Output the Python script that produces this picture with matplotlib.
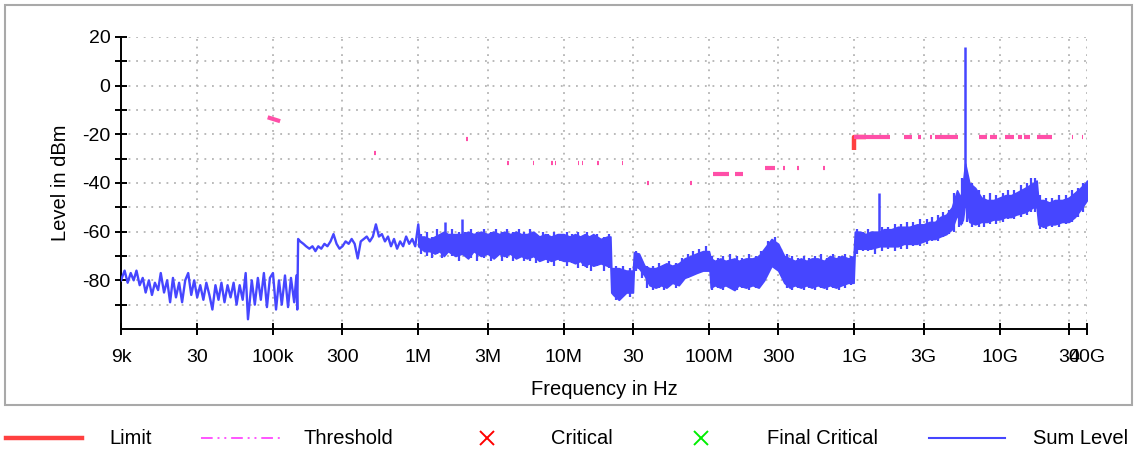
import matplotlib
matplotlib.use("Agg")
import matplotlib.pyplot as plt
from matplotlib.lines import Line2D
from matplotlib.patches import Rectangle

plt.rcParams['font.family'] = ['Liberation Sans', 'DejaVu Sans']

# ---------------- data ----------------
# Sum level, low-frequency part (single trace)
low_freq = [9.00e3, 9.53e3, 1.00e4, 1.05e4, 1.10e4, 1.15e4, 1.21e4, 1.27e4, 1.33e4, 1.40e4,
            1.47e4, 1.54e4, 1.62e4, 1.69e4, 1.78e4, 1.87e4, 1.96e4, 2.05e4, 2.15e4, 2.26e4,
            2.37e4, 2.49e4, 2.61e4, 2.74e4, 2.87e4, 3.01e4, 3.16e4, 3.32e4, 3.48e4, 3.65e4,
            3.83e4, 4.02e4, 4.22e4, 4.42e4, 4.64e4, 4.87e4, 5.11e4, 5.36e4, 5.62e4, 5.90e4,
            6.19e4, 6.49e4, 6.73e4, 7.15e4, 7.50e4, 7.87e4, 8.25e4, 8.66e4, 9.09e4, 9.53e4,
            1.00e5, 1.05e5, 1.10e5, 1.15e5, 1.21e5, 1.27e5, 1.33e5, 1.40e5, 1.45e5, 1.47e5,
            1.49e5, 1.54e5, 1.62e5, 1.69e5, 1.78e5, 1.87e5, 1.96e5, 2.05e5, 2.15e5, 2.26e5,
            2.37e5, 2.49e5, 2.61e5, 2.74e5, 2.87e5, 3.01e5, 3.16e5, 3.32e5, 3.48e5, 3.65e5,
            3.83e5, 4.02e5, 4.22e5, 4.42e5, 4.64e5, 4.87e5, 5.11e5, 5.36e5, 5.62e5, 5.90e5,
            6.19e5, 6.49e5, 6.81e5, 7.15e5, 7.50e5, 7.87e5, 8.25e5, 8.66e5, 9.09e5, 9.53e5,
            1.00e6, 1.02e6]
low_level = [-80, -76, -81, -77, -80, -76, -82, -79, -85, -80,
             -86, -81, -84, -77, -85, -80, -89, -79, -87, -81,
             -89, -80, -77, -86, -80, -87, -82, -88, -81, -86,
             -92, -82, -88, -81, -89, -82, -87, -81, -90, -82,
             -88, -77, -96, -80, -90, -79, -88, -77, -91, -79,
             -77, -92, -80, -90, -78, -91, -79, -89, -78, -92,
             -63, -64, -65, -66, -67, -66, -68, -66, -67, -65,
             -66, -64, -61, -65, -67, -66, -64, -65, -63, -65,
             -71, -64, -63, -62, -64, -62, -57, -62, -61, -64,
             -62, -66, -63, -67, -64, -66, -62, -65, -63, -66,
             -57, -63]

# Sum level, dense part (envelope of the sweep)
band_freq = [1.0e6, 1.1e6, 1.2e6, 1.3e6, 1.4e6, 1.5e6, 1.6e6, 1.8e6, 2.0e6, 2.2e6,
             2.4e6, 2.7e6, 3.0e6, 3.3e6, 3.6e6, 3.9e6, 4.3e6, 4.7e6, 5.1e6, 5.6e6,
             6.2e6, 6.8e6, 7.5e6, 8.2e6, 9.1e6,
             1.0e7, 1.1e7, 1.2e7, 1.3e7, 1.4e7, 1.5e7, 1.6e7, 1.8e7, 2.0e7, 2.1e7,
             2.13e7, 2.2e7, 2.4e7, 2.7e7, 3.0e7, 3.05e7, 3.3e7, 3.6e7, 3.9e7, 4.3e7,
             4.7e7, 5.1e7, 5.6e7, 6.2e7, 6.8e7, 7.5e7, 8.2e7, 9.1e7, 1.0e8, 1.01e8,
             1.03e8, 1.1e8, 1.2e8, 1.3e8, 1.5e8, 1.6e8, 1.8e8, 2.0e8, 2.2e8, 2.4e8,
             2.7e8, 3.0e8, 3.3e8, 3.6e8, 3.9e8, 4.3e8, 4.7e8, 5.1e8, 5.6e8, 6.2e8,
             6.8e8, 7.5e8, 8.2e8, 9.1e8, 9.9e8, 1.01e9,
             1.1e9, 1.2e9, 1.3e9, 1.5e9, 1.6e9, 1.8e9, 2.0e9, 2.2e9, 2.4e9, 2.7e9,
             3.0e9, 3.3e9, 3.6e9, 3.9e9, 4.3e9, 4.7e9, 5.1e9, 5.4e9, 5.6e9, 5.8e9,
             6.2e9, 6.8e9, 7.5e9, 8.2e9, 9.1e9, 1.0e10, 1.1e10, 1.2e10, 1.3e10, 1.5e10,
             1.6e10, 1.7e10, 1.8e10, 1.85e10, 2.0e10, 2.2e10, 2.4e10, 2.7e10, 3.0e10, 3.3e10,
             3.6e10, 3.9e10, 4.0e10]
band_hi = [-62, -62, -63, -62, -61, -60, -61, -61, -61, -60,
           -61, -60, -61, -60, -61, -60, -61, -60, -61, -61,
           -60, -62, -61, -62, -61,
           -61, -62, -61, -62, -61, -62, -61, -63, -62, -62,
           -75, -75, -75, -76, -76, -68.5, -69, -74, -75, -75,
           -74, -73, -74, -73, -71, -70, -69, -68, -68, -69,
           -71, -72, -71, -72, -71, -72, -71, -71, -70, -67,
           -63, -65, -70, -71, -72, -71, -72, -71, -71, -72,
           -70, -71, -70, -71, -70, -60,
           -60, -61, -60, -60, -59, -59, -58, -58, -58, -57,
           -57, -56, -56, -54, -53, -50, -43, -46, -40, -32,
           -40, -42, -46, -47, -47, -46, -45, -45, -44, -42,
           -41, -40, -39, -47, -47, -48, -47, -47, -46, -44,
           -42, -40, -39]
band_lo = [-66, -68, -68, -69, -68, -70, -68, -70, -69, -71,
           -68, -70, -69, -71, -69, -70, -69, -71, -70, -71,
           -70, -72, -71, -72, -71,
           -72, -72, -73, -72, -74, -73, -74, -73, -74, -74,
           -85, -86, -88, -85, -85, -74, -75, -78, -82, -83,
           -82, -83, -81, -82, -79, -78, -77, -76, -76, -76,
           -83, -82, -83, -82, -84, -82, -83, -82, -83, -80,
           -74, -76, -81, -83, -82, -83, -82, -83, -82, -83,
           -82, -83, -82, -81, -81, -67,
           -67, -67, -67, -66, -66, -66, -66, -65, -65, -65,
           -64, -63, -63, -62, -61, -59, -53, -57, -55, -48,
           -56, -57, -56, -56, -55, -55, -54, -54, -53, -52,
           -51, -50, -50, -57, -58, -57, -57, -56, -56, -54,
           -51, -48, -47]

# individual sweep excursions (min/max of single bins) within the dense part
jag_freq = [1.05e6, 1.15e6, 1.25e6, 1.35e6, 1.45e6, 1.7e6, 1.9e6, 2.1e6, 2.3e6, 2.55e6,
            2.85e6, 3.15e6, 3.45e6, 3.75e6, 4.1e6, 4.5e6, 4.9e6, 5.35e6, 5.9e6, 6.5e6,
            7.2e6, 7.8e6, 8.6e6, 9.5e6, 1.05e7, 1.15e7, 1.25e7, 1.35e7, 1.45e7, 1.55e7,
            1.7e7, 1.9e7, 2.05e7, 2.3e7, 2.55e7, 2.85e7, 3.15e7, 3.45e7, 3.75e7, 4.1e7,
            4.5e7, 4.9e7, 5.35e7, 5.9e7, 6.5e7, 7.2e7, 7.8e7, 8.6e7, 9.5e7, 1.05e8,
            1.15e8, 1.25e8, 1.4e8, 1.55e8, 1.7e8, 1.9e8, 2.1e8, 2.3e8, 2.55e8, 2.85e8,
            3.15e8, 3.45e8, 3.75e8, 4.1e8, 4.5e8, 4.9e8, 5.35e8, 5.9e8, 6.5e8, 7.2e8,
            7.8e8, 8.6e8, 9.5e8, 1.05e9, 1.15e9, 1.25e9, 1.4e9, 1.55e9, 1.7e9, 1.9e9,
            2.1e9, 2.3e9, 2.55e9, 2.85e9, 3.15e9, 3.45e9, 3.75e9, 4.1e9, 4.5e9, 4.9e9,
            5.3e9, 5.5e9, 6.0e9, 6.5e9, 7.2e9, 7.8e9, 8.6e9, 9.5e9, 1.05e10, 1.15e10,
            1.25e10, 1.4e10, 1.55e10, 1.65e10, 1.75e10, 1.9e10, 2.1e10, 2.3e10, 2.55e10,
            2.85e10, 3.15e10, 3.45e10, 3.75e10]
jag_hi = [-61, -60, -62, -59, -61, -59, -60, -60, -59, -60,
          -59, -60, -59, -60, -59, -60, -59, -60, -59, -61,
          -60, -61, -60, -61, -60, -61, -60, -62, -60, -62,
          -61, -62, -61, -74, -74, -75, -68, -72, -74, -74,
          -73, -74, -72, -73, -71, -69, -68, -67, -66, -70,
          -71, -70, -69, -70, -71, -69, -70, -68, -64, -62,
          -67, -69, -70, -71, -70, -71, -70, -69, -71, -69,
          -70, -69, -70, -59, -60, -59, -60, -58, -58, -57,
          -57, -56, -56, -55, -55, -54, -53, -52, -51, -44,
          -45, -38, -38, -40, -43, -45, -44, -45, -44, -43,
          -43, -41, -40, -38, -38, -45, -46, -46, -45,
          -45, -43, -42, -40]
jag_lo = [-69, -70, -71, -69, -71, -70, -72, -70, -71, -72,
          -71, -72, -70, -72, -71, -72, -70, -72, -72, -73,
          -71, -73, -74, -72, -74, -73, -75, -74, -75, -76,
          -74, -76, -75, -88, -86, -87, -76, -79, -83, -84,
          -83, -84, -82, -83, -80, -79, -78, -77, -76, -84,
          -83, -84, -83, -84, -83, -84, -83, -82, -76, -74,
          -78, -83, -84, -83, -84, -83, -84, -83, -84, -83,
          -84, -83, -82, -69, -68, -68, -69, -68, -67, -68,
          -67, -67, -66, -66, -65, -64, -64, -62, -61, -60,
          -58, -57, -56, -58, -58, -58, -57, -57, -56, -55,
          -55, -54, -53, -52, -52, -59, -59, -58, -58,
          -57, -56, -54, -52]

# narrow spurs on top of the sweep
spike_freq = [1.53e6, 2.0e6, 1.49e9, 5.8e9]
spike_base = [-62, -61, -61, -40]
spike_top = [-56, -55, -44, 16]

# threshold segments: start/stop frequency and level
thr_f0 = [9.2e4, 4.95e5, 2.13e6, 4.1e6, 6.2e6, 8.2e6, 8.7e6, 1.25e7, 1.33e7, 1.70e7,
          2.54e7, 3.75e7, 7.4e7, 1.07e8, 1.52e8, 2.45e8, 3.25e8, 4.05e8, 6.12e8,
          1.0e9, 2.21e9, 2.76e9, 3.33e9, 3.61e9, 7.25e9, 8.6e9, 1.09e10, 1.34e10,
          1.48e10, 1.82e10, 3.16e10, 3.71e10]
thr_f1 = [1.12e5, 5.15e5, 2.20e6, 4.2e6, 6.3e6, 8.4e6, 8.9e6, 1.28e7, 1.36e7, 1.74e7,
          2.58e7, 3.85e7, 7.6e7, 1.37e8, 1.72e8, 2.85e8, 3.33e8, 4.15e8, 6.28e8,
          1.77e9, 2.51e9, 2.89e9, 3.44e9, 5.2e9, 8.2e9, 9.64e9, 1.25e10, 1.42e10,
          1.63e10, 2.3e10, 3.21e10, 3.77e10]
thr_l0 = [-13.0, -27.7, -22.0, -31.8, -31.8, -31.8, -31.8, -31.8, -31.8, -31.8,
          -31.8, -40.0, -40.0, -36.4, -36.4, -34.0, -34.0, -34.0, -34.0,
          -21.3, -21.3, -21.3, -21.3, -21.3, -21.3, -21.3, -21.3, -21.3,
          -21.3, -21.3, -21.3, -21.3]
thr_l1 = [-14.6, -27.7, -22.0, -31.8, -31.8, -31.8, -31.8, -31.8, -31.8, -31.8,
          -31.8, -40.0, -40.0, -36.4, -36.4, -34.0, -34.0, -34.0, -34.0,
          -21.3, -21.3, -21.3, -21.3, -21.3, -21.3, -21.3, -21.3, -21.3,
          -21.3, -21.3, -21.3, -21.3]

# limit line
limit_freq = [1.0e9, 1.0e9, 1.2e9]
limit_level = [-26.5, -21.3, -21.3]

# axes ticks
x_ticks = [9e3, 3e4, 1e5, 3e5, 1e6, 3e6, 1e7, 3e7, 1e8, 3e8, 1e9, 3e9, 1e10, 3e10, 4e10]
x_labels = ["9k", "30", "100k", "300", "1M", "3M", "10M", "30", "100M", "300",
            "1G", "3G", "10G", "30", "40G"]
y_major = [-80, -60, -40, -20, 0, 20]
y_minor = [-90, -70, -50, -30, -10, 10]
y_grid = [-90, -80, -70, -60, -50, -40, -30, -20, -10, 0, 10, 20]

legend_names = ["Limit", "Threshold", "Critical", "Final Critical", "Sum Level"]

# ---------------- styles ----------------
BLUE = '#4646ff'
PINK = '#ff4fa8'
RED = '#ff4040'
MAG = '#ff55ff'
GRID = '#b4b4b4'

W, H = 1137, 454
fig = plt.figure(figsize=(W / 100, H / 100), dpi=100)
fig.patch.set_facecolor('white')

# outer frame
fig.add_artist(Rectangle((5 / W, 1 - 405 / H), (1132 - 5) / W, (405 - 5) / H,
                         transform=fig.transFigure, fill=False,
                         edgecolor='#a9a9a9', lw=1.5))

ax = fig.add_axes([121 / W, 1 - 329 / H, 966 / W, 292 / H])
ax.set_xscale('log')
ax.set_xlim(9e3, 4e10)
ax.set_ylim(-100, 20)

# grid
for yv in y_grid:
    ax.axhline(yv, color=GRID, lw=1.3, ls=(0, (1, 3.2)), zorder=0)
for xv in x_ticks[1:]:
    ax.axvline(xv, color=GRID, lw=1.3, ls=(0, (1, 3.2)), zorder=0)

# sum level
ax.plot(low_freq, low_level, color=BLUE, lw=1.7, zorder=3)
ax.fill_between(band_freq, band_lo, band_hi, color=BLUE, lw=1.2,
                edgecolor=BLUE, zorder=3)
ax.vlines(jag_freq, jag_lo, jag_hi, color=BLUE, lw=1.6, zorder=3)
ax.vlines(spike_freq, spike_base, spike_top, color=BLUE, lw=1.8, zorder=3)

# limit and threshold
ax.plot(limit_freq, limit_level, color=RED, lw=3.2, solid_capstyle='butt', zorder=4)
for f0, f1, l0, l1 in zip(thr_f0, thr_f1, thr_l0, thr_l1):
    ax.plot([f0, f1], [l0, l1], color=PINK, lw=3.0, solid_capstyle='butt', zorder=5)

# axes style
for s in ['top', 'right']:
    ax.spines[s].set_visible(False)
for s in ['left', 'bottom']:
    ax.spines[s].set_linewidth(1.4)
    ax.spines[s].set_color('black')

ax.set_xticks(x_ticks)
ax.set_xticklabels(x_labels)
ax.xaxis.set_minor_locator(matplotlib.ticker.NullLocator())
ax.set_yticks(y_major)
ax.set_yticklabels([str(v) for v in y_major])
ax.set_yticks(y_minor, minor=True)
ax.tick_params(axis='both', which='both', direction='inout', length=9, width=1.4,
               color='black', labelsize=14)
ax.tick_params(axis='x', pad=10)
ax.tick_params(axis='y', pad=3)

ax.set_xlabel('Frequency in Hz', fontsize=14.5)
ax.set_ylabel('Level in dBm', fontsize=14.5)
ax.xaxis.set_label_coords(0.5, -0.175)
ax.yaxis.set_label_coords(-0.053, 0.5)

# legend row
yl = 1 - 438 / H
fig.add_artist(Line2D([6 / W, 82 / W], [yl, yl], transform=fig.transFigure,
                      color=RED, lw=3.2))
fig.add_artist(Line2D([201 / W, 280 / W], [yl, yl], transform=fig.transFigure,
                      color=MAG, lw=1.4, ls=(0, (6, 2.5, 1, 2.5, 1, 2.5))))
fig.add_artist(Line2D([487 / W], [yl], transform=fig.transFigure, color='#ff0000',
                      marker='x', markersize=10, mew=1.4, ls='none'))
fig.add_artist(Line2D([701 / W], [yl], transform=fig.transFigure, color='#00ee00',
                      marker='x', markersize=10, mew=1.4, ls='none'))
fig.add_artist(Line2D([929 / W, 1005 / W], [yl, yl], transform=fig.transFigure,
                      color=BLUE, lw=1.5))
for name, xp in zip(legend_names, [109, 304, 551, 767, 1033]):
    fig.text(xp / W, yl, name, va='center', ha='left', fontsize=14.5)

fig.savefig('out.png', dpi=100)
